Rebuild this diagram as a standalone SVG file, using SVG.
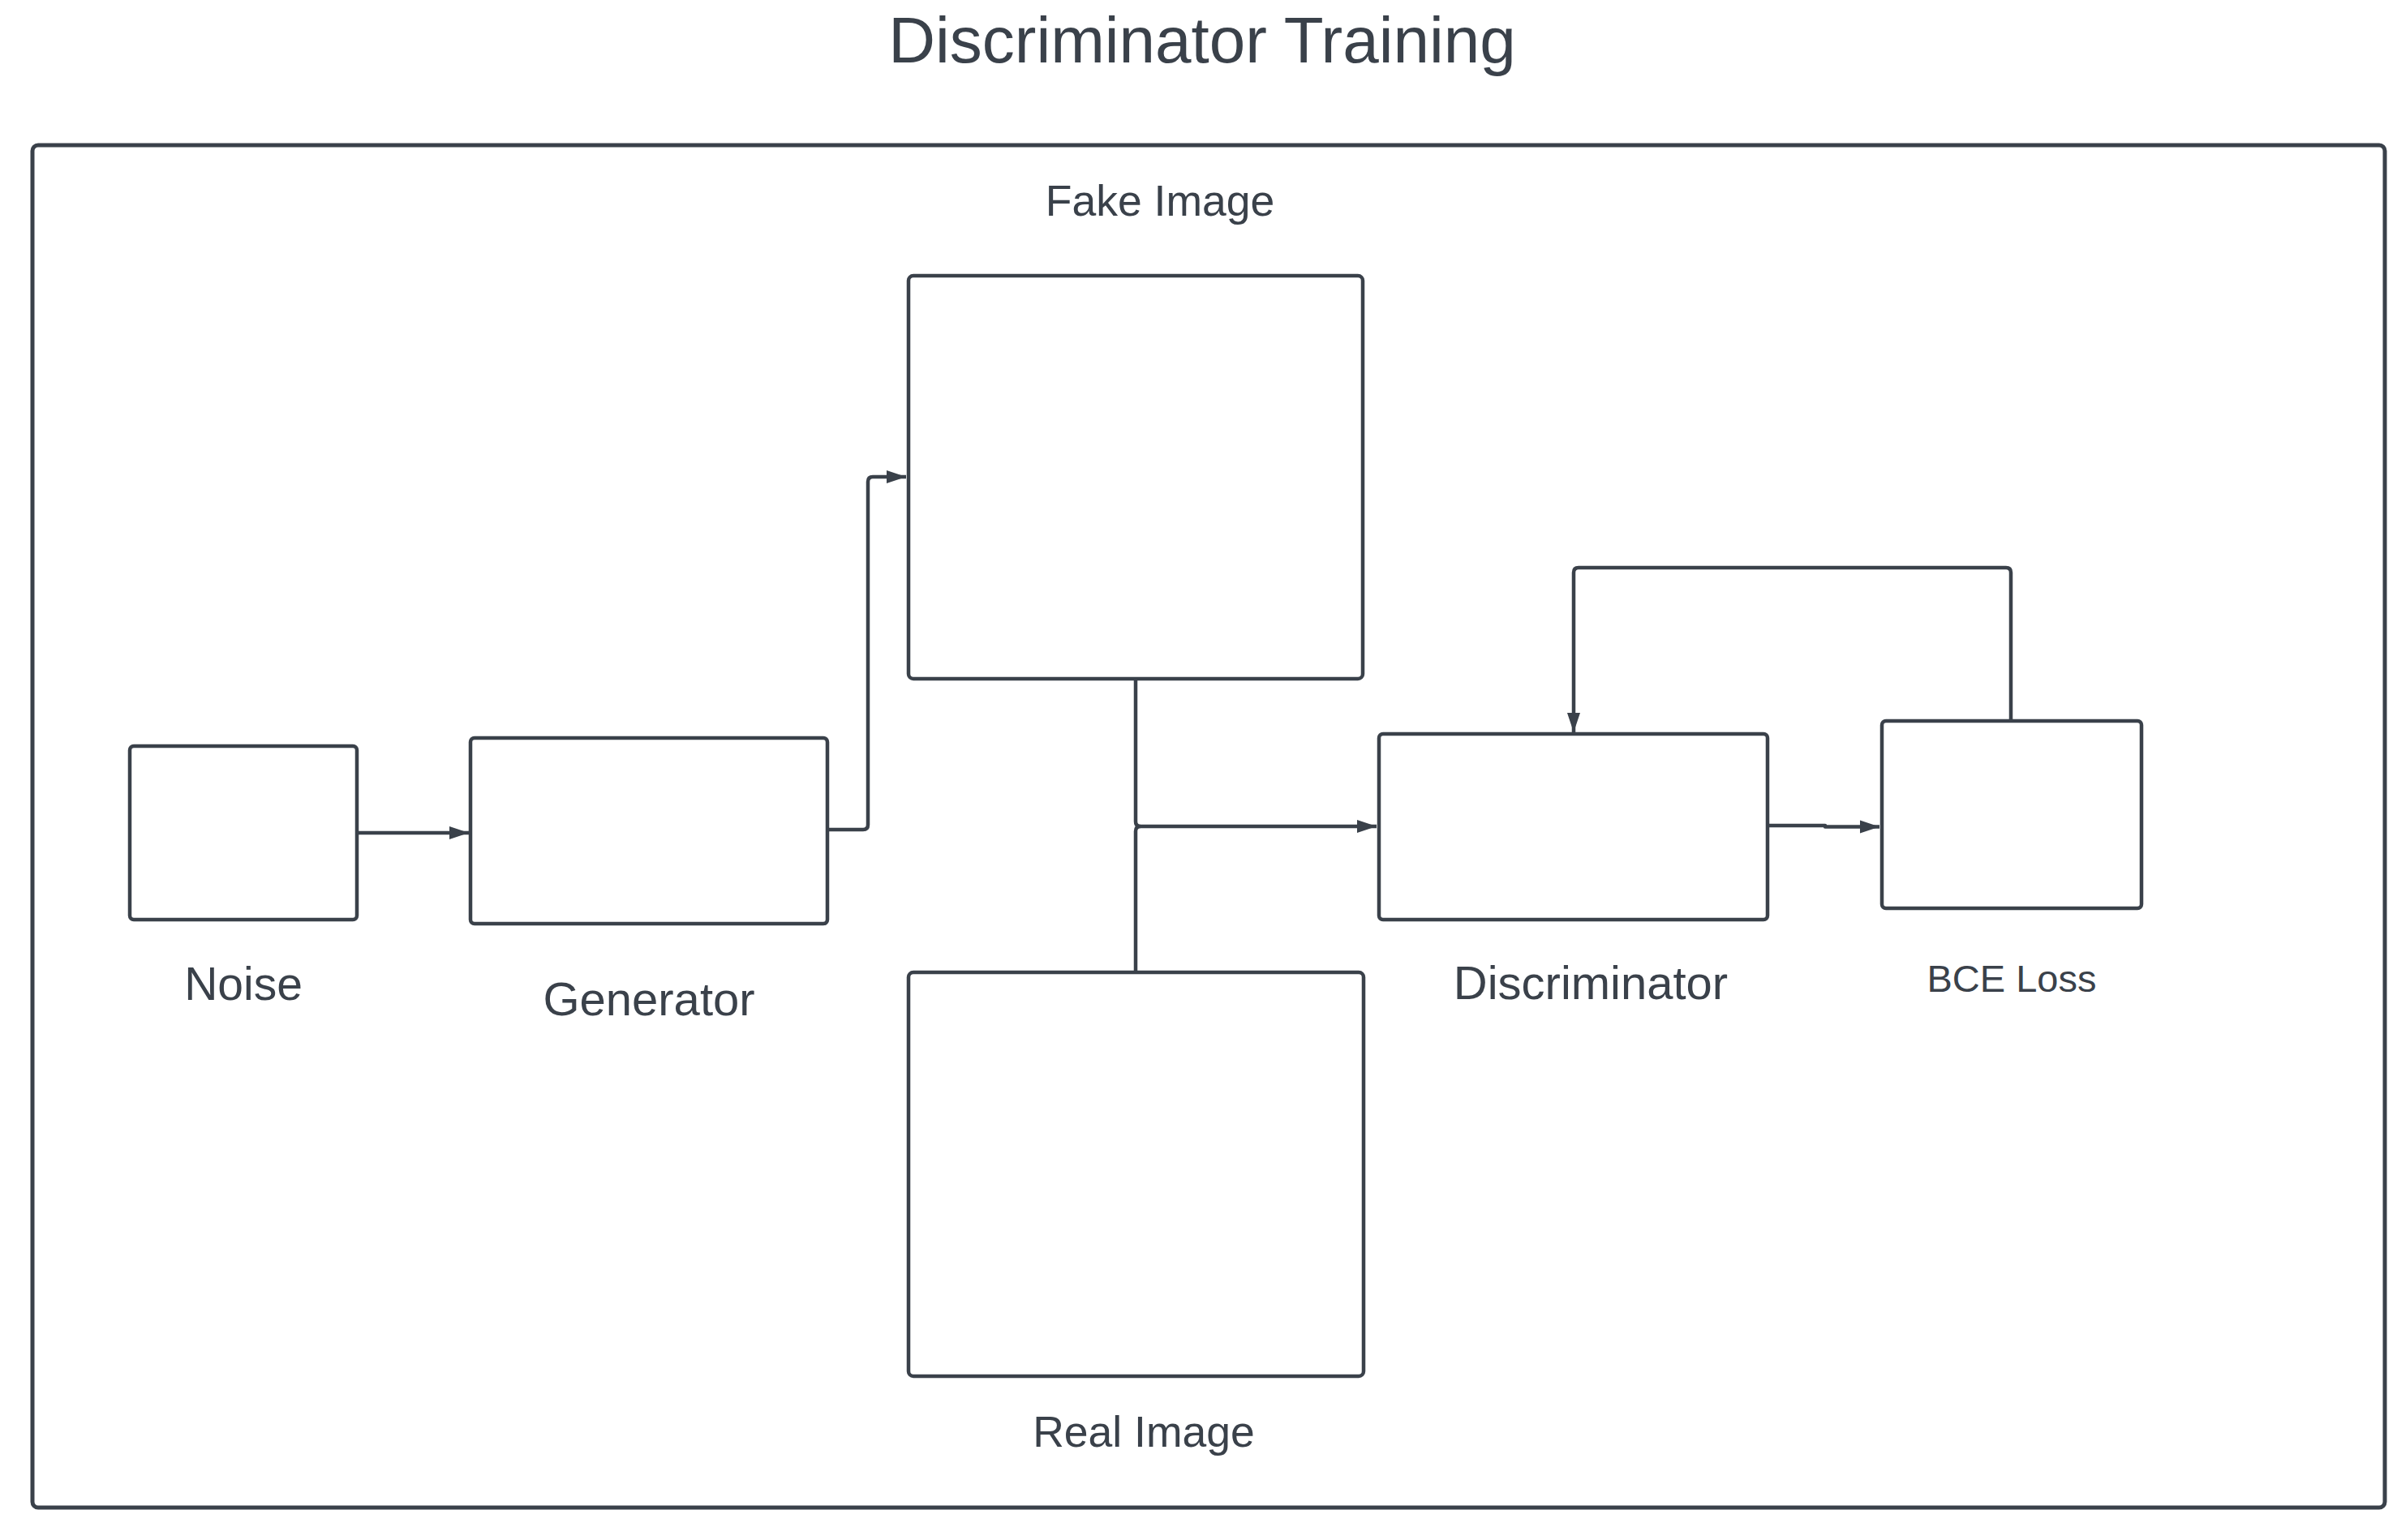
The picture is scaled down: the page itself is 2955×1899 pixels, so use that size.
<svg xmlns="http://www.w3.org/2000/svg" width="2955" height="1899" viewBox="0 0 2955 1899">
  <style>
    .box { fill: #ffffff; stroke: #3a414a; stroke-width: 4.5; }
    .frame { fill: #ffffff; stroke: #3a414a; stroke-width: 5; }
    .conn { fill: none; stroke: #3a414a; stroke-width: 4.5; stroke-linejoin: round; }
    .lbl { font-family: "Liberation Sans", Arial, sans-serif; fill: #3a414a; text-anchor: middle; }
  </style>
  <defs>
    <marker id="arrow" markerUnits="userSpaceOnUse" markerWidth="26" markerHeight="20" viewBox="0 0 26 20" refX="24" refY="10" orient="auto">
      <path d="M0,2 L24,10 L0,18 Z" fill="#3a414a"/>
    </marker>
  </defs>
  <rect width="2955" height="1899" fill="#ffffff"/>
  <g id="title">
    <text class="lbl" x="1482" y="77" font-size="80">Discriminator Training</text>
  </g>
  <g id="frame">
    <rect class="frame" x="40" y="179" width="2900" height="1680" rx="7"/>
  </g>
  <g id="noise">
    <rect class="box" x="160" y="920" width="280" height="214" rx="5"/>
    <text class="lbl" x="300" y="1233" font-size="57">Noise</text>
  </g>
  <g id="generator">
    <rect class="box" x="580" y="910" width="440" height="229" rx="5"/>
    <text class="lbl" x="800" y="1252" font-size="58">Generator</text>
  </g>
  <g id="fake-image">
    <rect class="box" x="1120" y="340" width="560" height="497" rx="6"/>
    <text class="lbl" x="1430" y="266" font-size="53.5">Fake Image</text>
  </g>
  <g id="real-image">
    <rect class="box" x="1120" y="1199" width="561" height="498" rx="6"/>
    <text class="lbl" x="1410" y="1784" font-size="53.5">Real Image</text>
  </g>
  <g id="discriminator">
    <rect class="box" x="1700" y="905" width="479" height="229" rx="5"/>
    <text class="lbl" x="1961" y="1232" font-size="58">Discriminator</text>
  </g>
  <g id="bce-loss">
    <rect class="box" x="2320" y="889" width="320" height="231" rx="5"/>
    <text class="lbl" x="2480" y="1223" font-size="47">BCE Loss</text>
  </g>
  <g id="connectors">
    <path class="conn" d="M440,1027 L578,1027" marker-end="url(#arrow)"/>
    <path class="conn" d="M1020,1023 L1064,1023 Q1070,1023 1070,1017 L1070,594 Q1070,588 1076,588 L1117,588" marker-end="url(#arrow)"/>
    <path class="conn" d="M1400,837 L1400,1013 Q1400,1019 1406,1019 L1697,1019" marker-end="url(#arrow)"/>
    <path class="conn" d="M1400,1199 L1400,1025 Q1400,1019 1406,1019"/>
    <path class="conn" d="M2180,1018 L2250,1018 L2250,1019.5 L2317,1019.5" marker-end="url(#arrow)"/>
    <path class="conn" d="M2479,889 L2479,706 Q2479,700 2473,700 L1946,700 Q1940,700 1940,706 L1940,903" marker-end="url(#arrow)"/>
  </g>
</svg>
